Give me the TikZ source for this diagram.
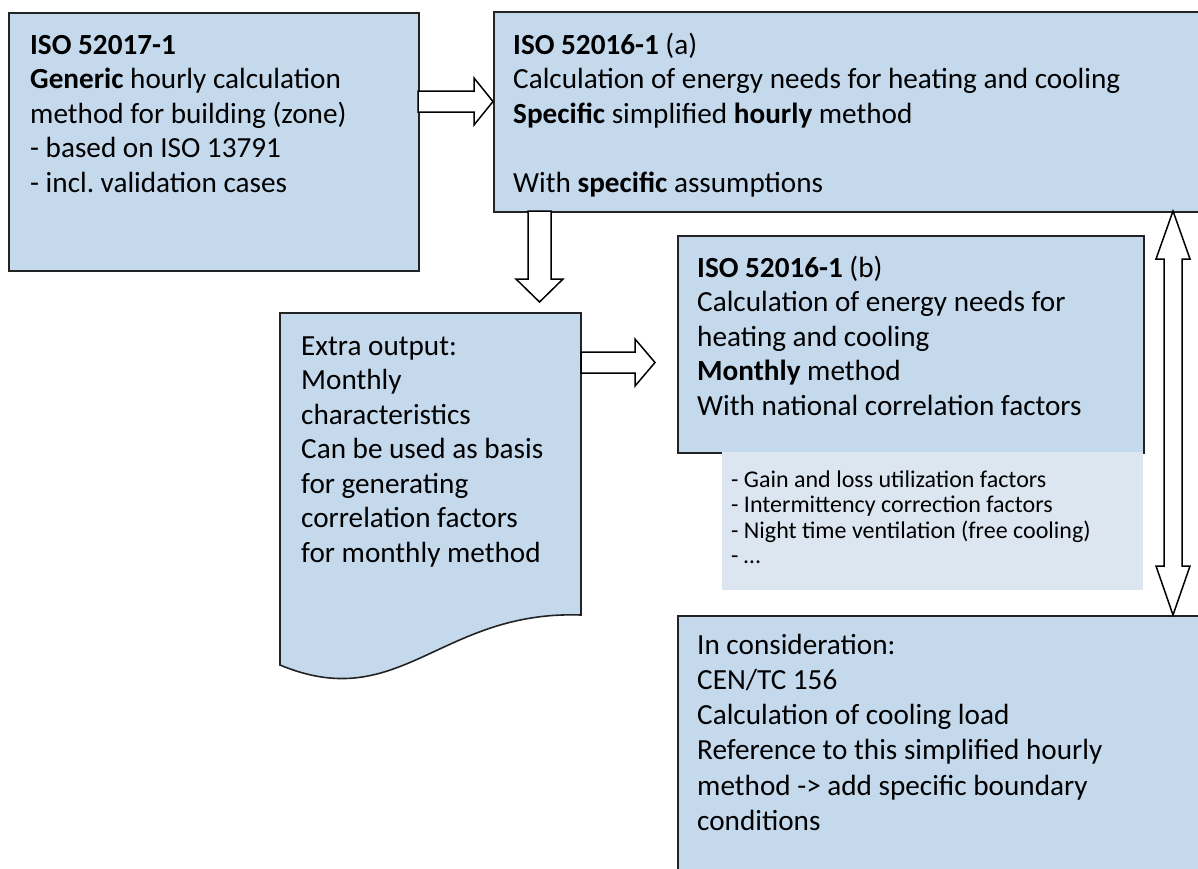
\documentclass[tikz,border=0pt]{standalone}
\usepackage{fontspec}
\setmainfont{Carlito}
\frenchspacing
\definecolor{boxblue}{RGB}{197,217,237}
\definecolor{lightblue}{RGB}{220,230,241}
\definecolor{edgegray}{RGB}{35,35,35}
\begin{document}
\begin{tikzpicture}[x=1pt,y=-1pt,
  box/.style={draw=edgegray,line width=1.6pt,fill=boxblue,inner sep=0pt,anchor=north west},
  lightbox/.style={fill=lightblue,inner sep=0pt,anchor=north west},
  blockarrow/.style={draw=black,line width=1.5pt,fill=white,line join=miter},
  big/.style={font=\fontsize{29.2}{34.5}\selectfont,anchor=base west,inner sep=0pt},
  small/.style={font=\fontsize{24}{25}\selectfont,anchor=base west,inner sep=0pt}]
\useasboundingbox (0,0) rectangle (1198,868);
\clip (0,0) rectangle (1198,868);
\fill[white] (0,0) rectangle (1198,868);
% boxes
\node[box,minimum width=410,minimum height=258] (A) at (8,12) {};
\node[box,minimum width=730,minimum height=200] (B) at (493,11) {};
\node[box,minimum width=466,minimum height=217] (C) at (677,235) {};
\node[lightbox,minimum width=421,minimum height=138] (L) at (722,452) {};
\node[box,minimum width=540,minimum height=280] (D) at (677,615) {};
\draw[box] (280,313) -- (581,313) -- (581,615)
  .. controls (440,610) and (400,715) .. (280,665) -- cycle;
% block arrows
\draw[blockarrow] (418,91) -- (474,91) -- (474,78) -- (493,101.5) -- (474,125) -- (474,112) -- (418,112) -- cycle;
\draw[blockarrow] (528,211) -- (528,279) -- (516,279) -- (539.5,302) -- (563,279) -- (551,279) -- (551,211) -- cycle;
\draw[blockarrow] (581,352) -- (635,352) -- (635,339) -- (655,362.5) -- (635,386) -- (635,373) -- (581,373) -- cycle;
\draw[blockarrow] (1173,211) -- (1190,259) -- (1182,259) -- (1182,566) -- (1190,566) -- (1173,615) -- (1156,566) -- (1164,566) -- (1164,259) -- (1156,259) -- cycle;
% texts
\foreach \t [count=\i from 0] in {{\textbf{ISO 52017-1}},{\textbf{Generic} hourly calculation},{method for building (zone)},{- based on ISO 13791},{- incl. validation cases}}
  \node[big] (a\i) at (30,{54+34.5*\i}) {\t};
\foreach \t/\k in {{\textbf{ISO 52016-1} (a)}/0,{Calculation of energy needs for heating and cooling}/1,{\textbf{Specific} simplified \textbf{hourly} method}/2,{With \textbf{specific} assumptions}/4}
  \node[big] (b\k) at (513,{54+34.5*\k}) {\t};
\foreach \t [count=\i from 0] in {{\textbf{ISO 52016-1} (b)},{Calculation of energy needs for},{heating and cooling},{\textbf{Monthly} method},{With national correlation factors}}
  \node[big] (c\i) at (697,{277+34.5*\i}) {\t};
\foreach \t [count=\i from 0] in {{Extra output:},{Monthly},{characteristics},{Can be used as basis},{for generating},{correlation factors},{for monthly method}}
  \node[big] (e\i) at (301,{355+34.5*\i}) {\t};
\foreach \t [count=\i from 0] in {{- Gain and loss utilization factors},{- Intermittency correction factors},{- Night time ventilation (free cooling)},{- …}}
  \node[small] (l\i) at (731,{487+25.5*\i}) {\t};
\foreach \t [count=\i from 0] in {{In consideration:},{CEN/TC 156},{Calculation of cooling load},{Reference to this simplified hourly},{method -> add specific boundary},{conditions}}
  \node[big] (d\i) at (697,{654+35.3*\i}) {\t};
\end{tikzpicture}
\end{document}
